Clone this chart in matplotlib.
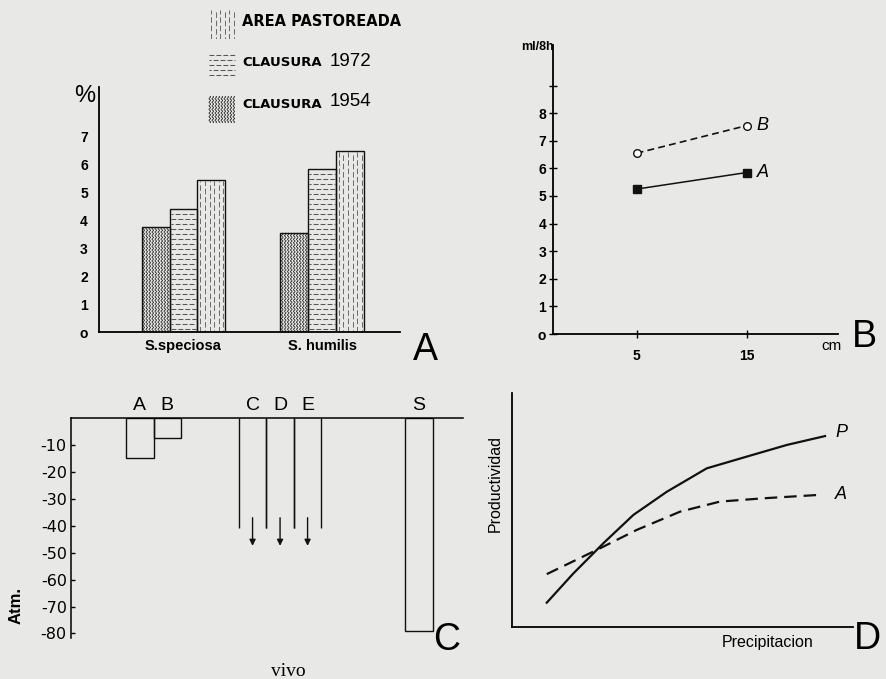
import matplotlib
matplotlib.use("Agg")
import matplotlib.pyplot as plt
import numpy as np

plt.rcParams['font.family'] = ['Liberation Sans', 'DejaVu Sans']
plt.rcParams['lines.scale_dashes'] = False

# ---------------- data ----------------
# Panel A
species = ["S.speciosa", "S. humilis"]
clausura_1954 = [3.75, 3.55]
clausura_1972 = [4.4, 5.85]
area_pastoreada = [5.45, 6.5]
yticks_A = [0, 1, 2, 3, 4, 5, 6, 7]
yticklabels_A = ["o", "1", "2", "3", "4", "5", "6", "7"]

# Panel B
x_cm = [5, 15]
serie_B = [6.55, 7.55]
serie_A = [5.25, 5.85]
yticks_B = [0, 1, 2, 3, 4, 5, 6, 7, 8, 9]
yticklabels_B = ["o", "1", "2", "3", "4", "5", "6", "7", "8", ""]

# Panel C
cats_C = ["A", "B", "C", "D", "E", "S"]
pos_C = [2.5, 3.5, 6.6, 7.6, 8.6, 12.65]
vals_C = [-15, -7.5, -41, -41, -41, -79]
open_C = [False, False, True, True, True, False]   # value is a lower bound (arrow)
yticks_C = [-10, -20, -30, -40, -50, -60, -70, -80]
yticklabels_C = ["-10", "-20", "-30", "-40", "-50", "-60", "-70", "-80"]

# Panel D
prec_P = [1.02, 1.80, 2.68, 3.56, 4.54, 5.71, 6.88, 8.06, 9.18]
prod_P = [1.04, 2.29, 3.58, 4.79, 5.78, 6.78, 7.28, 7.78, 8.16]
prec_A = [1.02, 2.48, 3.66, 4.93, 6.10, 7.37, 8.94]
prod_A = [2.26, 3.29, 4.15, 4.93, 5.36, 5.50, 5.64]

# ---------------- figure ----------------
W, H = 886, 679
BG = '#e8e8e6'
fig = plt.figure(figsize=(W / 100, H / 100), dpi=100, facecolor=BG)


def ax_px(l, t, r, b):
    a = fig.add_axes([l / W, 1 - b / H, (r - l) / W, (b - t) / H])
    a.set_facecolor('none')
    return a


def ftext(x, y, s, **kw):
    fig.text(x / W, 1 - y / H, s, **kw)


def texture(ax, x0, x1, y0, y1, kind, sx, sy):
    """Fill a rectangle with a printed-style texture; sx, sy = pixels per data unit."""
    if kind == 'wavy':
        step = 3.0 / sx
        yy = np.linspace(y0, y1, 600)
        xs = np.arange(x0 + 1.8 / sx, x1 - 1.0 / sx, step)
        for xc in xs:
            ax.plot(xc + (0.8 / sx) * np.sin(2 * np.pi * yy * sy / 3.6), yy,
                    color='#2a2a2a', lw=0.6, solid_capstyle='butt')
    elif kind == 'hdash':
        ys = np.arange(y0 + 3.0 / sy, y1 - 1.0 / sy, 5.0 / sy)
        for k, yc in enumerate(ys):
            ax.plot([x0 + 1 / sx, x1 - 1 / sx], [yc, yc], color='#555555', lw=0.75,
                    ls=((k % 2) * 2.0, (3.5, 1.5)))
    elif kind == 'vdash':
        xs = np.arange(x0 + 3.0 / sx, x1 - 1.0 / sx, 4.6 / sx)
        for k, xc in enumerate(xs):
            ax.plot([xc, xc], [y0, y1 - 1 / sy], color='#6a6a6a', lw=0.7,
                    ls=((k % 2) * 2.5, (4.0, 2.0)))


LW = 1.3

# ================= Panel A =================
axA = ax_px(99, 87, 400, 332)
axA.set_xlim(-0.61, 1.563)
axA.set_ylim(0, 8.78)
sxA = 301 / (1.563 + 0.61)
syA = 245 / 8.78
for s in ['top', 'right']:
    axA.spines[s].set_visible(False)
for s in ['left', 'bottom']:
    axA.spines[s].set_linewidth(LW)
w = 0.2
xg = np.arange(len(species))
kinds = ['wavy', 'hdash', 'vdash']
for i, (vals, kd) in enumerate(zip([clausura_1954, clausura_1972, area_pastoreada], kinds)):
    xx = xg + (i - 1) * w
    bars = axA.bar(xx, vals, width=w, facecolor='none', edgecolor='#111111', linewidth=1.0, zorder=3)
    for b in bars:
        texture(axA, b.get_x(), b.get_x() + b.get_width(), 0, b.get_height(), kd, sxA, syA)
axA.set_yticks(yticks_A)
axA.set_yticklabels(yticklabels_A, fontsize=10, fontweight='bold')
axA.set_xticks(xg)
axA.set_xticklabels(species, fontsize=10.5, fontweight='bold')
axA.tick_params(axis='y', length=0, pad=8)
axA.tick_params(axis='x', length=0, pad=5)
ftext(85, 96, "%", fontsize=17, ha='center', va='center')

# legend (texture swatches + labels)
leg_boxes = [(208, 9, 236, 39, 'vdash'), (208, 52, 236, 78, 'hdash'), (208, 96, 236, 123, 'wavy')]
for (l, t, r, b, kd) in leg_boxes:
    la = ax_px(l, t, r, b)
    la.set_xlim(0, r - l)
    la.set_ylim(0, b - t)
    la.axis('off')
    texture(la, 0, r - l, 0, b - t, kd, 1.0, 1.0)
ftext(242, 21, "AREA PASTOREADA", fontsize=10.5, fontweight='bold',
      family=['DejaVu Sans'], ha='left', va='center')
ftext(242, 63, "CLAUSURA", fontsize=9.5, fontweight='bold',
      family=['DejaVu Sans'], ha='left', va='center')
ftext(330, 61, "1972", fontsize=13.5, ha='left', va='center')
ftext(242, 104, "CLAUSURA", fontsize=9.5, fontweight='bold',
      family=['DejaVu Sans'], ha='left', va='center')
ftext(330, 101, "1954", fontsize=13.5, ha='left', va='center')
ftext(425, 350, "A", fontsize=27, ha='center', va='center')

# ================= Panel B =================
axB = ax_px(553, 45, 838, 334)
axB.set_xlim(-2.6, 23.3)
axB.set_ylim(0, 10.47)
for s in ['top', 'right']:
    axB.spines[s].set_visible(False)
for s in ['left', 'bottom']:
    axB.spines[s].set_linewidth(LW)
axB.plot(x_cm, serie_B, ls=(0, (5, 3)), color='#111111', lw=1.2, marker='o',
         markersize=5.5, markerfacecolor='white', markeredgecolor='#111111', markeredgewidth=1)
axB.plot(x_cm, serie_A, ls='-', color='#111111', lw=1.1, marker='s',
         markersize=5.5, markerfacecolor='#111111', markeredgecolor='#111111')
axB.text(x_cm[1] + 0.9, serie_B[1], "B", fontsize=13, style='italic', va='center', ha='left')
axB.text(x_cm[1] + 0.9, serie_A[1], "A", fontsize=13, style='italic', va='center', ha='left')
axB.set_yticks(yticks_B)
axB.set_yticklabels(yticklabels_B, fontsize=10, fontweight='bold')
axB.set_xticks(x_cm)
axB.set_xticklabels([str(v) for v in x_cm], fontsize=10, fontweight='bold')
axB.tick_params(axis='both', direction='inout', length=6, width=1, pad=2)
axB.tick_params(axis='x', pad=8)
ftext(537, 47, "ml/8h", fontsize=9, fontweight='bold', ha='center', va='center')
ftext(832, 346, "cm", fontsize=11, ha='center', va='center')
ftext(864, 337, "B", fontsize=27, ha='center', va='center')

# ================= Panel C =================
axC = ax_px(71, 418, 463, 637.5)
axC.set_xlim(0, 14.25)
axC.set_ylim(-81.5, 0)
for s in ['bottom', 'right']:
    axC.spines[s].set_visible(False)
for s in ['left', 'top']:
    axC.spines[s].set_linewidth(1.1)
for c, p, v, o in zip(cats_C, pos_C, vals_C, open_C):
    if o:
        axC.vlines([p - 0.5, p + 0.5], v, 0, color='#111111', lw=1.0)
        axC.annotate("", xy=(p, v - 7.5), xytext=(p, v + 5),
                     arrowprops=dict(arrowstyle='-|>', color='#111111', lw=1.0,
                                     mutation_scale=9))
    else:
        axC.bar(p, v, width=1.0, facecolor='none', edgecolor='#111111', linewidth=1.0)
    axC.text(p, 4.8, c, fontsize=14, ha='center', va='center', clip_on=False)
axC.set_yticks(yticks_C)
axC.set_yticklabels(yticklabels_C, fontsize=11.5, family=['DejaVu Sans'])
axC.set_xticks([])
axC.tick_params(axis='y', direction='in', length=3, width=1, pad=3)
ftext(16, 605, "Atm.", fontsize=12, fontweight='bold', rotation=90, ha='center', va='center')
ftext(288, 671, "vivo", fontsize=14, family='Liberation Serif', ha='center', va='center')
ftext(447, 640, "C", fontsize=27, ha='center', va='center')

# ================= Panel D =================
axD = ax_px(512, 393, 853, 627)
axD.set_xlim(0, 10)
axD.set_ylim(0, 10)
for s in ['top', 'right']:
    axD.spines[s].set_visible(False)
for s in ['left', 'bottom']:
    axD.spines[s].set_linewidth(LW)
axD.set_xticks([])
axD.set_yticks([])
axD.plot(prec_P, prod_P, '-', color='#111111', lw=1.6)
axD.plot(prec_A, prod_A, color='#111111', lw=1.6, ls=(0, (9, 5)))
axD.text(9.65, 8.3, "P", fontsize=13, style='italic', ha='center', va='center')
axD.text(9.65, 5.65, "A", fontsize=13, style='italic', ha='center', va='center')
ftext(495, 484, "Productividad", fontsize=11.5, rotation=90, ha='center', va='center')
ftext(768, 643, "Precipitacion", fontsize=11.5, ha='center', va='center')
ftext(867, 639, "D", fontsize=27, ha='center', va='center')

fig.savefig("out.png", dpi=100, facecolor=BG)
